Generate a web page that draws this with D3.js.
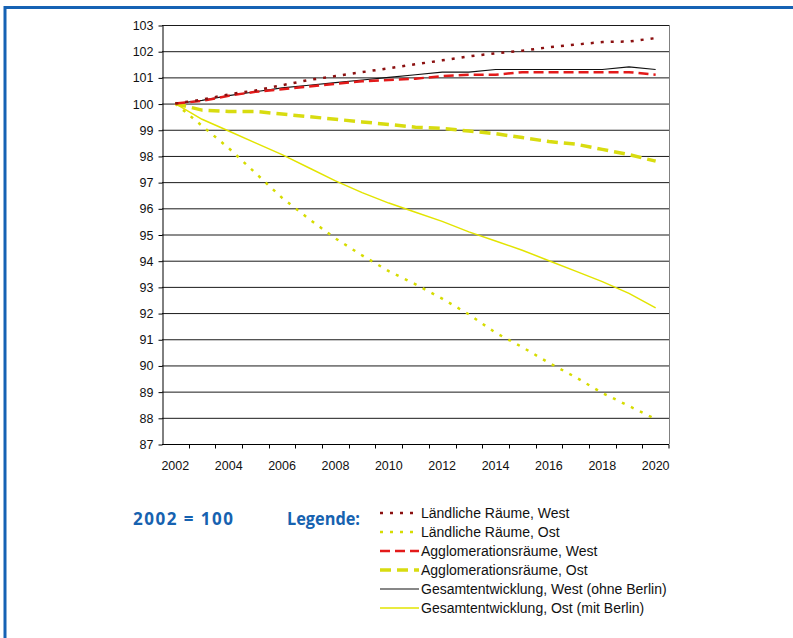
<!DOCTYPE html>
<html>
<head>
  <meta charset="UTF-8">
  <style>
    body { margin: 0; background: #fff; }
    text { font-family: "Liberation Sans", Arial, sans-serif; }
  </style>
</head>
<body>
  <svg></svg>
<script src="https://d3js.org/d3.v7.min.js"></script>
<script>

    let width = 793;
    let height = 638;

    let years = d3.range(2002, 2021);
    let yearLabels = [2002, 2004, 2006, 2008, 2010, 2012, 2014, 2016, 2018, 2020];
    let yTicks = d3.range(87, 104);

    // 2002 = 100
    let laendlichWest = [100, 100.15, 100.35, 100.5, 100.7, 100.9, 101.05, 101.2, 101.35, 101.5, 101.65, 101.8, 101.92, 102.02, 102.15, 102.25, 102.35, 102.37, 102.5];
    let laendlichOst = [100, 99.15, 98.3, 97.35, 96.4, 95.6, 94.85, 94.2, 93.6, 93.1, 92.55, 91.95, 91.25, 90.7, 90.1, 89.55, 88.95, 88.45, 87.95];
    let agglomWest = [100, 100.1, 100.3, 100.45, 100.55, 100.65, 100.75, 100.85, 100.9, 100.95, 101.05, 101.1, 101.1, 101.2, 101.2, 101.2, 101.2, 101.2, 101.1];
    let agglomOst = [100, 99.75, 99.7, 99.7, 99.6, 99.5, 99.4, 99.3, 99.2, 99.1, 99.05, 98.95, 98.85, 98.7, 98.55, 98.45, 98.25, 98.05, 97.8];
    let gesamtWest = [100, 100.12, 100.3, 100.45, 100.6, 100.7, 100.8, 100.9, 101.0, 101.1, 101.2, 101.2, 101.3, 101.3, 101.3, 101.3, 101.3, 101.4, 101.3];
    let gesamtOst = [100, 99.4, 98.95, 98.5, 98.05, 97.55, 97.05, 96.6, 96.2, 95.85, 95.5, 95.1, 94.75, 94.4, 94.0, 93.6, 93.2, 92.75, 92.2];

    let series = [
      {name: "Ländliche Räume, West", values: laendlichWest, color: "#8b1010", w: 2.5, dash: "3,7"},
      {name: "Ländliche Räume, Ost", values: laendlichOst, color: "#d6dc00", w: 2.5, dash: "3,7"},
      {name: "Agglomerationsräume, West", values: agglomWest, color: "#e31a1a", w: 2.5, dash: "10,5"},
      {name: "Agglomerationsräume, Ost", values: agglomOst, color: "#d8dc10", w: 3.5, dash: "11,6"},
      {name: "Gesamtentwicklung, West (ohne Berlin)", values: gesamtWest, color: "#111111", w: 1.2, dash: null},
      {name: "Gesamtentwicklung, Ost (mit Berlin)", values: gesamtOst, color: "#e2e400", w: 1.5, dash: null}
    ];

    let svg = d3.select("svg")
        .attr("width", width)
        .attr("height", height);

    // blue frame
    svg.append("rect")
      .attr("x", 5).attr("y", 7.5)
      .attr("width", 900).attr("height", 800)
      .attr("fill", "none")
      .attr("stroke", "#1662b4")
      .attr("stroke-width", 3);

    let x = d3.scaleBand().domain(years).range([162, 669]).padding(0);
    let y = d3.scaleLinear().domain([87, 103]).range([444, 25]);
    let cx = d => x(d) + x.bandwidth() / 2;

    // gridlines
    svg.append("g")
      .selectAll("line")
      .data(yTicks.filter(v => v > 87))
      .enter()
      .append("line")
        .attr("x1", 162).attr("x2", 669)
        .attr("y1", d => y(d) + 0.5).attr("y2", d => y(d) + 0.5)
        .attr("stroke", "#1a1a1a")
        .attr("stroke-width", 1);

    // right border
    svg.append("line")
      .attr("x1", 669.5).attr("x2", 669.5)
      .attr("y1", y(103)).attr("y2", y(87))
      .attr("stroke", "#808080");

    // y axis
    let yAxis = svg.append("g")
      .attr("transform", "translate(162.5,0.5)")
      .call(d3.axisLeft(y).tickValues(yTicks).tickSize(4).tickSizeOuter(0).tickFormat(d3.format("d")));
    yAxis.select(".domain").attr("stroke", "#000");
    yAxis.selectAll("text")
      .attr("x", -9)
      .style("font-family", "Liberation Sans, Arial, sans-serif")
      .style("font-size", "12.5px")
      .attr("fill", "#111");

    // x axis: line + ticks at category boundaries, labels every 2 years
    let xg = svg.append("g").attr("transform", "translate(0," + (y(87) + 0.5) + ")");
    xg.append("line")
      .attr("x1", 162).attr("x2", 669)
      .attr("stroke", "#000");
    xg.selectAll(".tk")
      .data(years.slice(1).concat(["end"]))
      .enter()
      .append("line")
        .attr("class", "tk")
        .attr("x1", d => d === "end" ? 669 : Math.round(x(d)) + 0.5)
        .attr("x2", d => d === "end" ? 669 : Math.round(x(d)) + 0.5)
        .attr("y1", 0).attr("y2", 4)
        .attr("stroke", "#000");
    xg.selectAll("text")
      .data(yearLabels)
      .enter()
      .append("text")
        .attr("x", d => cx(d))
        .attr("y", 25)
        .attr("text-anchor", "middle")
        .style("font-size", "12.5px")
        .attr("fill", "#111")
        .text(d => d);

    // lines
    let line = d3.line()
      .x((d, i) => cx(years[i]))
      .y(d => y(d));

    let drawOrder = [5, 3, 1, 4, 2, 0];
    svg.append("g")
      .selectAll("path")
      .data(drawOrder.map(i => series[i]))
      .enter()
      .append("path")
        .attr("d", d => line(d.values))
        .attr("fill", "none")
        .attr("stroke", d => d.color)
        .attr("stroke-width", d => d.w)
        .attr("stroke-dasharray", d => d.dash);

    // captions
    svg.append("text")
      .attr("x", 133).attr("y", 525)
      .attr("textLength", 100)
      .attr("lengthAdjust", "spacing")
      .style("font-family", "Open Sans, sans-serif")
      .style("font-weight", "bold")
      .style("font-size", "17px")
      .attr("fill", "#1662b0")
      .text("2002 = 100");
    svg.append("text")
      .attr("x", 287).attr("y", 525)
      .attr("textLength", 73)
      .attr("lengthAdjust", "spacingAndGlyphs")
      .style("font-family", "Open Sans, sans-serif")
      .style("font-weight", "bold")
      .style("font-size", "17px")
      .attr("fill", "#1662b0")
      .text("Legende:");

    // legend
    let legend = svg.append("g")
      .selectAll("g")
      .data(series)
      .enter()
      .append("g")
        .attr("transform", (d, i) => "translate(0," + (513 + i * 19) + ")");
    legend.append("line")
      .attr("x1", 380).attr("x2", 419)
      .attr("stroke", d => d.color)
      .attr("stroke-width", d => d.w)
      .attr("stroke-dasharray", d => d.dash);
    legend.append("text")
      .attr("x", 421).attr("y", 5)
      .style("font-size", "14px")
      .attr("fill", "#111")
      .text(d => d.name);

</script>
</body>
</html>
